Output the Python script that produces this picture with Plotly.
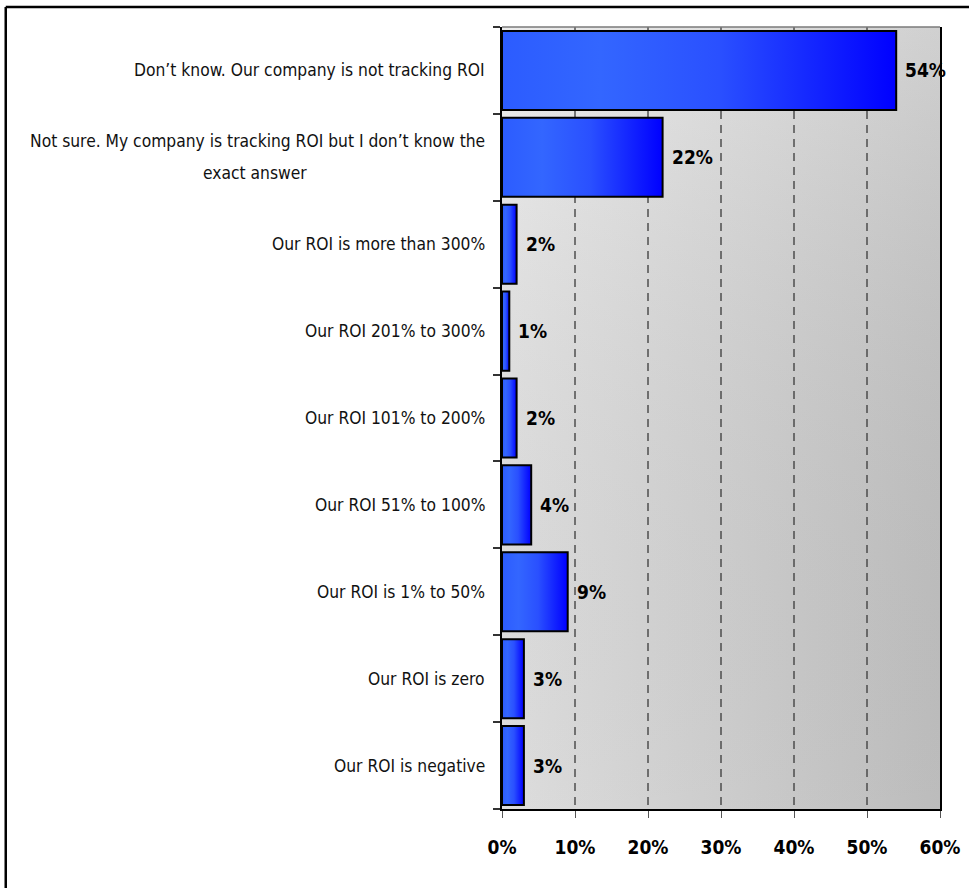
import plotly.graph_objects as go

# Survey answers, top to bottom ("<br>" marks a wrapped label)
categories = [
    "Don\u2019t know. Our company is not tracking ROI",
    "Not sure. My company is tracking ROI but I don\u2019t know the<br>exact answer",
    "Our ROI is more than 300%",
    "Our ROI 201% to 300%",
    "Our ROI 101% to 200%",
    "Our ROI 51% to 100%",
    "Our ROI is 1% to 50%",
    "Our ROI is zero",
    "Our ROI is negative",
]
shares = [54, 22, 2, 1, 2, 4, 9, 3, 3]
x_ticks = [0, 10, 20, 30, 40, 50, 60]
x_tick_labels = ["0%", "10%", "20%", "30%", "40%", "50%", "60%"]

FONT = "DejaVu Sans Condensed, Liberation Sans Narrow, sans-serif"
LABEL_SIZE = 17.3
HALF = 0.455       # half bar thickness in category units
LINE_GAP = 32      # pixel spacing between lines of a wrapped label
LABEL_PAD = 15     # gap between category labels and the axis
n = len(categories)
y_lo, y_hi = -0.5, n - 0.5


def text_px(s, size=LABEL_SIZE):
    """Rough pixel width of a line in the condensed label font."""
    return len(s) * size * 0.47


fig = go.Figure()

# gradient plot background (light grey on the left, darker to the right)
fig.add_trace(go.Scatter(
    x=[0, 60, 60, 0, 0], y=[y_lo, y_lo, y_hi, y_hi, y_lo],
    mode="lines", line=dict(width=0), fill="toself",
    fillgradient=dict(type="horizontal",
                      colorscale=[[0, "#e9e9e9"], [1, "#c6c6c6"]]),
    hoverinfo="skip", showlegend=False,
))
fig.add_trace(go.Scatter(
    x=[0, 60, 60, 0, 0], y=[y_lo, y_lo, y_hi, y_hi, y_lo],
    mode="lines", line=dict(width=0), fill="toself",
    fillgradient=dict(type="vertical",
                      colorscale=[[0, "rgba(0,0,0,0.05)"], [1, "rgba(255,255,255,0.18)"]]),
    hoverinfo="skip", showlegend=False,
))

# dashed vertical gridlines, under the bars
gx, gy = [], []
for t in x_ticks[1:-1]:
    gx += [t, t, None]
    gy += [y_lo, y_hi, None]
fig.add_trace(go.Scatter(
    x=gx, y=gy, mode="lines",
    line=dict(color="#3a3a3a", width=1.3, dash="8px,6px"),
    hoverinfo="skip", showlegend=False,
))

# bars with a blue horizontal gradient and black outline
for i, v in enumerate(shares):
    fig.add_trace(go.Scatter(
        x=[0, v, v, 0, 0],
        y=[i - HALF, i - HALF, i + HALF, i + HALF, i - HALF],
        mode="lines", fill="toself",
        line=dict(color="#000000", width=2),
        fillgradient=dict(type="horizontal",
                          colorscale=[[0, "#2c5cff"], [0.25, "#3366ff"],
                                      [0.55, "#2a50ff"], [1, "#0000ff"]]),
        name=categories[i].replace("<br>", " "),
        hovertemplate="%{fullData.name}: " + f"{v}%<extra></extra>",
        showlegend=False,
    ))

annotations = []
# value labels to the right of each bar
for i, v in enumerate(shares):
    annotations.append(dict(
        x=v, y=i, xref="x", yref="y", text=f"{v}%", showarrow=False,
        xanchor="left", yanchor="middle", xshift=7,
        font=dict(family=FONT, size=19, color="#000000", weight="bold"),
    ))

# category labels: first line right-aligned against the axis,
# continuation lines centred under it
for i, c in enumerate(categories):
    lines = c.split("<br>")
    m = len(lines)
    w0 = text_px(lines[0])
    for k, line in enumerate(lines):
        first = k == 0
        annotations.append(dict(
            x=0, y=i, xref="paper", yref="y", text=line, showarrow=False,
            xanchor="right" if first else "center", yanchor="middle",
            xshift=-LABEL_PAD if first else -LABEL_PAD - w0 / 2,
            yshift=((m - 1) / 2 - k) * LINE_GAP,
            font=dict(family=FONT, size=LABEL_SIZE, color="#111111"),
        ))

fig.update_layout(
    width=969, height=888,
    margin=dict(l=502, r=29, t=27, b=79, autoexpand=False),
    paper_bgcolor="#ffffff", plot_bgcolor="#ffffff",
    annotations=annotations,
    shapes=[
        # top edge of the plot area
        dict(type="line", xref="paper", yref="paper", x0=0, x1=1, y0=1, y1=1,
             line=dict(color="#7a7a7a", width=1.5)),
        # outer frame (top and left edges)
        dict(type="line", xref="paper", yref="paper", x0=-1.133, x1=1.07, y0=1.0255, y1=1.0255,
             line=dict(color="#000000", width=2.5)),
        dict(type="line", xref="paper", yref="paper", x0=-1.133, x1=-1.133, y0=1.0255, y1=-0.101,
             line=dict(color="#000000", width=2.5)),
    ],
    xaxis=dict(
        range=[0, 60], tickvals=x_ticks, ticktext=x_tick_labels,
        showgrid=False, zeroline=False, automargin=False,
        showline=True, linecolor="#000000", linewidth=2,
        ticks="outside", ticklen=7, tickwidth=1.3, tickcolor="#555555",
        ticklabelstandoff=13,
        tickfont=dict(family=FONT, size=19, color="#000000", weight="bold"),
        fixedrange=True,
    ),
    yaxis=dict(
        range=[y_hi, y_lo], automargin=False,
        tickvals=[k - 0.5 for k in range(n + 1)],
        showticklabels=False, showgrid=False, zeroline=False,
        showline=True, mirror=True, linecolor="#000000", linewidth=2,
        ticks="outside", ticklen=7, tickwidth=1.5, tickcolor="#333333",
        fixedrange=True,
    ),
)

fig.write_html("out.html")
